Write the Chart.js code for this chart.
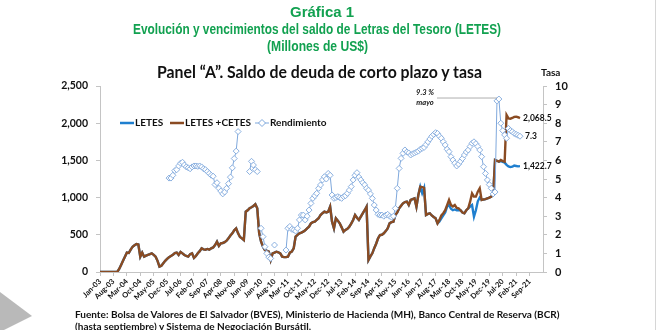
<!DOCTYPE html>
<html>
<head>
<meta charset="utf-8">
<script src="https://cdn.jsdelivr.net/npm/chart.js@4.4.1/dist/chart.umd.min.js"></script>
<style>
  html, body { margin: 0; padding: 0; background: #fff; }
  #wrap { position: relative; width: 660px; height: 330px; overflow: hidden; background: #fff; }
  #c { position: absolute; left: 0; top: 0; }
  .fit { position: absolute; white-space: nowrap; transform-origin: 0 0; line-height: 1; }
  .g { color: #12a150; font-family: "Liberation Sans", Arimo, sans-serif; font-weight: bold; font-size: 15px; }
  .panel { font-family: Lato, "Open Sans", sans-serif; font-weight: bold; font-size: 17px; color: #111; }
  .tasa { position: absolute; left: 541px; top: 66px; font-family: Lato, sans-serif; font-weight: bold; font-size: 10px; color: #111; }
  .src { position: absolute; left: 75px; font-family: Lato, sans-serif; font-weight: bold; font-size: 10px; color: #111; white-space: nowrap; }
  .tri { position: absolute; left: 0; top: 292px; width: 32px; height: 40px; background: #b9b9b9;
         clip-path: polygon(0 0, 100% 60%, 0 100%); }
  .edge { position: absolute; left: 655px; top: 0; width: 1px; height: 330px; background: #d6d6d6; }
</style>
</head>
<body>
<div id="wrap">
  <canvas id="c" width="660" height="330"></canvas>
  <div class="fit g" data-l="290" data-w="64" style="top:4px">Gráfica 1</div>
  <div class="fit g" data-l="133" data-w="368" style="top:21px">Evolución y vencimientos del saldo de Letras del Tesoro (LETES)</div>
  <div class="fit g" data-l="267" data-w="101" style="top:38px">(Millones de US$)</div>
  <div class="fit panel" data-l="157" data-w="325" style="top:63px">Panel “A”. Saldo de deuda de corto plazo y tasa</div>
  <div class="tasa">Tasa</div>
  <div class="tri"></div>
  <div class="edge"></div>
  <div class="src" style="top:308px">Fuente: Bolsa de Valores de El Salvador (BVES), Ministerio de Hacienda (MH), Banco Central de Reserva (BCR)</div>
  <div class="src" style="top:320px">(hasta septiembre) y Sistema de Negociación Bursátil.</div>
</div>
<script>
// Heading lines are set in a condensed face: squeeze each one to its box width
document.querySelectorAll('.fit').forEach(el => {
  el.style.left = el.dataset.l + 'px';
  const w = el.getBoundingClientRect().width;
  el.style.transform = 'scaleX(' + (Number(el.dataset.w) / w) + ')';
});

// Monthly categories, Jan-03 onward (axis runs a few months past the last observation)
const MONTH_ABBR = ['Jan','Feb','Mar','Apr','May','Jun','Jul','Aug','Sep','Oct','Nov','Dec'];
const FIRST_YEAR = 2003;
const N_MONTHS = 232;
const categories = [];
for (let i = 0; i < N_MONTHS; i++) {
  const y = FIRST_YEAR + Math.floor(i / 12);
  categories.push(MONTH_ABBR[i % 12] + '-' + String(y % 100).padStart(2, '0'));
}
const LABEL_EVERY = 7;
const LAST_LABEL = 'Sep-21';

// LETES + CETES outstanding balance, US$ millions (monthly)
const letesCetes = [
  0,0,0,0,0,0,0,0,0,0,40,95,
  150,206,260,255,300,340,360,376,370,206,260,206,
  220,230,240,251,230,206,150,72,85,117,150,175,
  200,215,230,255,262,230,270,250,228,215,206,240,
  250,190,215,251,280,318,305,300,310,300,318,330,
  363,407,350,385,390,400,420,452,490,520,560,587,
  520,470,452,430,810,830,856,870,887,910,856,520,
  407,340,296,285,273,161,251,260,273,265,250,206,
  200,200,206,260,273,318,475,500,520,530,542,560,
  587,610,654,670,677,700,722,766,790,810,800,810,
  878,676,587,722,690,654,600,542,565,580,609,650,
  699,766,730,699,745,789,830,878,161,210,251,320,
  380,452,497,500,520,550,587,654,670,676,766,800,
  856,890,923,940,945,900,968,980,990,878,1035,1146,
  1140,1130,766,780,789,760,740,722,654,700,760,790,
  830,900,968,900,880,900,860,856,830,800,789,830,
  856,945,1057,1013,1013,1080,1125,968,975,980,990,1000,
  1013,1035,1505,1495,1483,1505,1490,1483,2110,2065,2060,2070,
  2085,2088,2080,2068.5
];

// LETES outstanding balance, US$ millions (monthly)
const letes = [
  0,0,0,0,0,0,0,0,0,0,40,95,
  150,206,260,255,300,340,360,376,370,206,260,206,
  220,230,240,251,230,206,150,72,85,117,150,175,
  200,215,230,255,262,230,270,250,228,215,206,240,
  250,190,215,251,280,318,305,300,310,300,318,330,
  363,407,350,385,390,400,420,452,490,520,560,587,
  520,470,452,430,810,830,856,870,887,910,856,520,
  407,340,296,285,273,161,251,260,273,265,250,206,
  200,200,206,260,273,318,475,500,520,530,542,560,
  587,610,654,670,677,700,722,766,790,810,800,810,
  878,676,587,722,690,654,600,542,565,580,609,650,
  699,766,730,699,745,789,830,878,161,210,251,320,
  380,452,497,500,520,550,587,654,670,676,766,800,
  856,890,923,940,945,900,968,980,990,878,1035,1146,
  1060,1130,766,780,789,760,740,722,654,680,720,760,
  800,880,900,850,830,840,830,830,830,800,789,830,
  856,880,900,744,830,950,1000,968,975,980,990,1000,
  1013,1035,1505,1495,1483,1490,1480,1470,1440,1420,1410,1415,
  1430,1425,1420,1422.7
];

// Yield (Rendimiento), %, right axis; null where no placement took place
const rendimiento = [
  null,null,null,null,null,null,null,null,null,null,null,null,
  null,null,null,null,null,null,null,null,null,null,null,null,
  null,null,null,null,null,null,null,null,null,null,null,null,
  5.05,5.05,5.2,5.45,5.5,5.7,5.85,5.9,5.75,5.65,5.6,5.55,
  5.65,5.7,5.7,5.68,5.7,5.65,5.55,5.5,5.4,5.3,5.2,5.15,
  4.7,4.8,4.5,4.35,4.2,4.3,4.5,4.75,5.1,5.6,6.1,6.5,
  7.55,null,null,null,null,null,5.4,5.95,5.75,5.5,5.4,null,
  2.35,1.9,1.36,1.0,0.8,0.73,null,1.45,null,null,null,null,
  null,1.18,2.35,2.45,2.3,2.26,2.2,2.35,2.8,3.06,3.06,2.8,
  3.0,3.33,3.69,3.96,4.1,4.23,4.5,4.68,4.95,5.12,5.0,5.3,
  5.2,4.14,3.96,4.0,4.05,4.0,3.96,4.05,4.1,4.23,4.4,4.59,
  4.95,5.2,5.34,5.1,4.95,4.8,4.68,4.5,4.4,4.2,3.96,3.6,
  3.33,3.1,3.06,3.06,3.0,3.06,3.1,3.0,2.95,3.0,3.42,4.5,
  5.57,6.11,6.38,6.56,6.45,6.4,6.29,6.35,6.4,6.45,6.5,6.6,
  6.65,6.7,6.85,7.0,7.15,7.3,7.4,7.49,7.45,7.3,7.19,7.0,
  6.83,6.6,6.47,6.2,6.02,5.85,5.7,5.8,5.95,6.1,6.29,6.45,
  6.56,6.75,6.92,7.0,6.9,6.75,6.56,6.2,5.66,5.3,4.95,4.7,
  4.5,4.2,4.3,9.2,9.3,8.0,7.6,7.37,7.19,7.72,7.6,7.54,
  7.45,7.4,7.35,7.3
];

const LEFT_TICKS = [0, 500, 1000, 1500, 2000, 2500];
const RIGHT_TICKS = [0,1,2,3,4,5,6,7,8,9,10];
const PEAK_INDEX = 208; // May-20

const BLUE = '#1f7fcf';
const BROWN = '#8a4b22';
const YIELD = '#7fa8dc';
const AXIS = '#c4c4c4';
const FONT = 'Lato, "Open Sans", sans-serif';

const fmt = v => v.toLocaleString('en-US', { minimumFractionDigits: 1, maximumFractionDigits: 1 });
const lastLabelIndex = categories.indexOf(LAST_LABEL);

// Legend and end-of-series value labels
const overlay = {
  id: 'overlay',
  afterDatasetsDraw(chart) {
    const { ctx, scales } = chart;
    const x = scales.x, yL = scales.y, yR = scales.y1;
    ctx.save();
    ctx.font = 'bold 10px ' + FONT;
    ctx.textBaseline = 'middle';
    ctx.fillStyle = '#111';

    // legend
    const ly = 123;
    const items = [
      { x: 120, color: BLUE, text: 'LETES', w: 2.5 },
      { x: 170, color: BROWN, text: 'LETES +CETES', w: 2.5 },
      { x: 255, color: YIELD, text: 'Rendimiento', w: 1, marker: true }
    ];
    items.forEach(it => {
      ctx.strokeStyle = it.color; ctx.lineWidth = it.w;
      ctx.beginPath(); ctx.moveTo(it.x, ly); ctx.lineTo(it.x + 14, ly); ctx.stroke();
      if (it.marker) {
        const cx = it.x + 7;
        ctx.fillStyle = '#fff'; ctx.lineWidth = 1;
        ctx.beginPath(); ctx.moveTo(cx, ly - 3.5); ctx.lineTo(cx + 3.5, ly); ctx.lineTo(cx, ly + 3.5); ctx.lineTo(cx - 3.5, ly); ctx.closePath();
        ctx.fill(); ctx.stroke();
      }
      ctx.fillStyle = '#111';
      ctx.textAlign = 'left';
      ctx.fillText(it.text, it.x + 15, ly);
    });

    // end values
    const lastB = letesCetes.length - 1, lastL = letes.length - 1, lastR = rendimiento.length - 1;
    const lx = x.getPixelForValue(lastB) + 3;
    ctx.font = 'bold 8.5px ' + FONT;
    ctx.fillText(fmt(letesCetes[lastB]), lx, yL.getPixelForValue(letesCetes[lastB]));
    ctx.fillText(fmt(letes[lastL]), lx, yL.getPixelForValue(letes[lastL]));
    ctx.fillText(rendimiento[lastR].toFixed(1), x.getPixelForValue(lastR) + 5, yR.getPixelForValue(rendimiento[lastR]));

    // May-20 peak callout
    const px = x.getPixelForValue(PEAK_INDEX) - 2;
    const py = yR.getPixelForValue(rendimiento[PEAK_INDEX]) - 1;
    ctx.strokeStyle = '#9a9a9a'; ctx.lineWidth = 0.8;
    ctx.beginPath(); ctx.moveTo(437, py); ctx.lineTo(px, py); ctx.stroke();
    ctx.font = 'italic bold 7.5px ' + FONT;
    ctx.textAlign = 'center';
    ctx.fillText(rendimiento[PEAK_INDEX].toFixed(1) + ' %', 425, py - 5);
    ctx.fillText('mayo', 425, py + 5);
    ctx.restore();
  }
};

new Chart(document.getElementById('c'), {
  type: 'line',
  data: {
    labels: categories,
    datasets: [
      { label: 'Rendimiento', data: rendimiento, yAxisID: 'y1', order: 0,
        borderColor: YIELD, borderWidth: 1, pointStyle: 'rectRot', pointRadius: 3,
        pointBackgroundColor: '#fff', pointBorderColor: YIELD, pointBorderWidth: 0.9,
        spanGaps: false, tension: 0 },
      { label: 'LETES +CETES', data: letesCetes, yAxisID: 'y', order: 1,
        borderColor: BROWN, borderWidth: 2.4, pointRadius: 0, tension: 0 },
      { label: 'LETES', data: letes, yAxisID: 'y', order: 2,
        borderColor: BLUE, borderWidth: 2.4, pointRadius: 0, tension: 0 }
    ]
  },
  options: {
    responsive: false,
    animation: false,
    events: [],
    layout: { padding: { top: 86, left: 0, right: 0, bottom: 0 } },
    plugins: { legend: { display: false }, tooltip: { enabled: false } },
    scales: {
      x: {
        type: 'category', offset: false,
        grid: { display: true, drawOnChartArea: false, drawTicks: true, tickLength: 4, color: AXIS },
        border: { color: AXIS, width: 1 },
        ticks: {
          autoSkip: false, maxRotation: 45, minRotation: 45, padding: 1,
          color: '#111', font: { family: FONT, size: 7.5, weight: 'bold' },
          callback(value, index) {
            return (index % LABEL_EVERY === 0 && index <= lastLabelIndex) ? categories[index] : null;
          }
        },
        afterFit(s) { s.height = 58; }
      },
      y: {
        position: 'left', min: 0, max: 2500,
        afterBuildTicks(s) { s.ticks = LEFT_TICKS.map(v => ({ value: v })); },
        grid: { drawOnChartArea: false, drawTicks: true, tickLength: 4, color: AXIS },
        border: { color: AXIS, width: 1 },
        ticks: { color: '#111', padding: 8, font: { family: FONT, size: 10.5, weight: 'bold' },
                 callback: v => v.toLocaleString('en-US') },
        afterFit(s) { s.width = 100; }
      },
      y1: {
        position: 'right', min: 0, max: 10,
        afterBuildTicks(s) { s.ticks = RIGHT_TICKS.map(v => ({ value: v })); },
        grid: { drawOnChartArea: false, drawTicks: true, tickLength: 4, color: AXIS },
        border: { color: AXIS, width: 1 },
        ticks: { color: '#111', padding: 8, font: { family: FONT, size: 11, weight: 'bold' } },
        afterFit(s) { s.width = 117; }
      }
    }
  },
  plugins: [overlay]
});
</script>
</body>
</html>
